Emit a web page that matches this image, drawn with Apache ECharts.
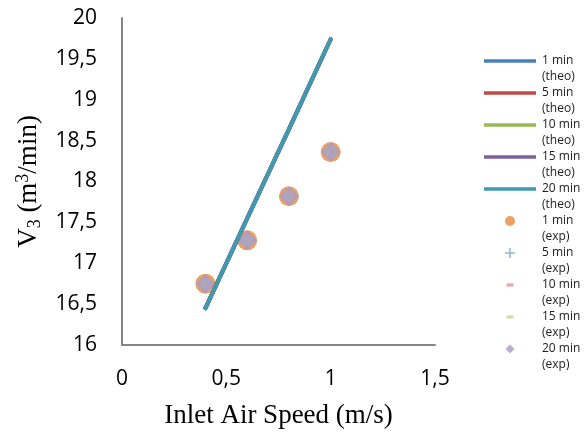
<!DOCTYPE html>
<html>
<head>
<meta charset="utf-8">
<script src="https://cdn.jsdelivr.net/npm/echarts@6/dist/echarts.min.js"></script>
<style>html,body{margin:0;padding:0;background:#fff}#c{width:584px;height:437px}</style>
</head>
<body>
<div id="c"></div>
<script>
// Data
const speeds = [0.4, 0.6, 0.8, 1.0];
const theo1 = [16.45, 17.55, 18.64, 19.74];
const theo5 = [16.45, 17.55, 18.64, 19.74];
const theo10 = [16.45, 17.55, 18.64, 19.74];
const theo15 = [16.45, 17.55, 18.64, 19.74];
const theo20 = [16.45, 17.55, 18.64, 19.74];
const exp1 = [16.75, 17.28, 17.82, 18.36];
const exp5 = [16.75, 17.28, 17.82, 18.36];
const exp10 = [16.75, 17.28, 17.82, 18.36];
const exp15 = [16.75, 17.28, 17.82, 18.36];
const exp20 = [16.75, 17.28, 17.82, 18.36];

const pair = (ys) => speeds.map((x, i) => [x, ys[i]]);
const fmt = (v) => String(v).replace('.', ',');

// legend icon box 54x32, visible shape centred on the first text line (y=8)
const BOX = 'path://M0,0M54,32';
const lineIcon = BOX + 'M1,6.2H53V9.8H1Z';
const circleIcon = BOX + 'M22,8A5,5 0 1,0 32,8A5,5 0 1,0 22,8Z';
const plusIcon = BOX + 'M26.2,3H27.8V7.2H32V8.8H27.8V13H26.2V8.8H22V7.2H26.2Z';
const dashIcon = BOX + 'M23.5,6.4H30.5V9.6H23.5Z';
const diamondIcon = BOX + 'M27,3.5L31.5,8L27,12.5L22.5,8Z';

const theo = [
  ['1 min (theo)', theo1, '#4A7EBB'],
  ['5 min (theo)', theo5, '#BE4B48'],
  ['10 min (theo)', theo10, '#98B954'],
  ['15 min (theo)', theo15, '#7D60A0'],
  ['20 min (theo)', theo20, '#4198AF']
];
const plusPath = 'path://M4,0H6V4H10V6H6V10H4V6H0V4H4Z';
const dashPath = 'path://M0,0H10V4H0Z';
const exps = [
  ['1 min (exp)', exp1, '#E58A3C', 'circle', 20, circleIcon],
  ['5 min (exp)', exp5, '#7F9FD0', plusPath, 10, plusIcon],
  ['10 min (exp)', exp10, '#D99694', dashPath, 10, dashIcon],
  ['15 min (exp)', exp15, '#C3D69B', dashPath, 10, dashIcon],
  ['20 min (exp)', exp20, '#A99BC6', 'diamond', 20, diamondIcon]
];

const series = [];
theo.forEach(([n, ys, c]) => series.push({
  name: n, type: 'line', data: pair(ys), symbol: 'none', z: 5,
  lineStyle: {color: c, width: 4, cap: 'round'}, itemStyle: {color: c}
}));
exps.forEach(([n, ys, c, s, sz]) => series.push({
  name: n, type: 'scatter', data: pair(ys), symbol: s, symbolSize: sz, z: 3,
  itemStyle: {color: c}
}));

const legendData = [];
theo.forEach(([n, , c]) => legendData.push({name: n, icon: lineIcon, itemStyle: {color: c}}));
exps.forEach(([n, , c, , , ic]) => legendData.push({name: n, icon: ic, itemStyle: {color: c}}));

const chart = echarts.init(document.getElementById('c'));
chart.setOption({
  animation: false,
  backgroundColor: '#fff',
  grid: {left: 122, right: 149, top: 18, bottom: 92, containLabel: false},
  xAxis: {
    type: 'value', min: 0, max: 1.5, interval: 0.5,
    name: 'Inlet Air Speed (m/s)', nameLocation: 'middle', nameGap: 57,
    nameTextStyle: {fontFamily: 'Liberation Serif', fontSize: 27, color: '#000'},
    axisLine: {show: true, lineStyle: {color: '#868686', width: 2}},
    axisTick: {show: false}, splitLine: {show: false},
    axisLabel: {margin: 24, fontFamily: 'Open Sans', fontSize: 21, color: '#000', formatter: fmt}
  },
  yAxis: {
    type: 'value', min: 16, max: 20, interval: 0.5,
    name: '{n|V}{s|3}{n| (m}{p|3}{n|/min)}', nameLocation: 'middle', nameGap: 78, nameRotate: 90,
    nameTextStyle: {
      rich: {
        n: {fontFamily: 'Liberation Serif', fontSize: 27, color: '#000'},
        s: {fontFamily: 'Liberation Serif', fontSize: 18, color: '#000', padding: [12, 0, 0, 0]},
        p: {fontFamily: 'Liberation Serif', fontSize: 18, color: '#000', padding: [0, 0, 12, 0]}
      }
    },
    axisLine: {show: true, lineStyle: {color: '#868686', width: 2}},
    axisTick: {show: false}, splitLine: {show: false},
    axisLabel: {margin: 25, fontFamily: 'Open Sans', fontSize: 21, color: '#000', formatter: fmt}
  },
  legend: {
    orient: 'vertical', left: 478, top: 48,
    itemWidth: 54, itemHeight: 32, itemGap: 0,
    data: legendData,
    formatter: (n) => n.replace(' (', '\n('),
    textStyle: {fontFamily: 'Open Sans', fontSize: 12, lineHeight: 16, color: '#222'}
  },
  series: series
});
</script>
</body>
</html>
